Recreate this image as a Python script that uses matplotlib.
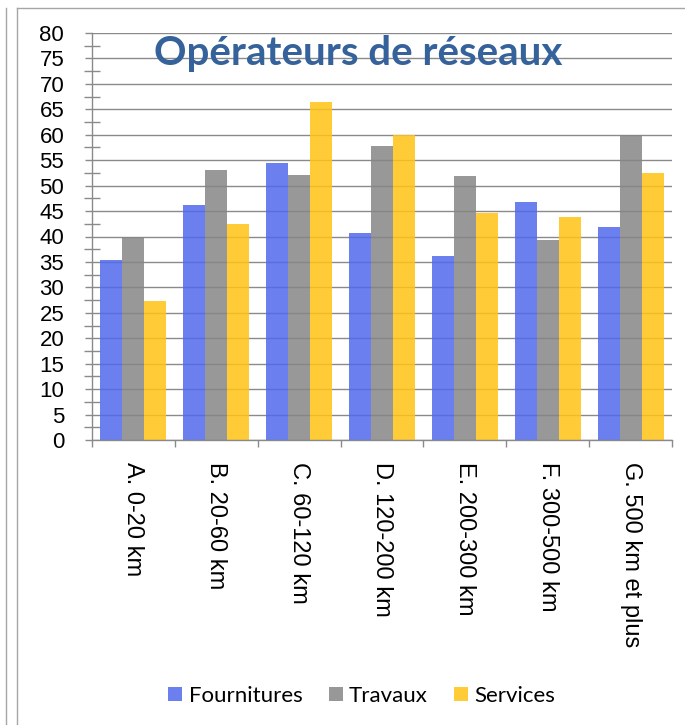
import matplotlib
matplotlib.use("Agg")
import matplotlib.pyplot as plt
from matplotlib.lines import Line2D
import numpy as np

CATEGORIES = ["A. 0-20 km", "B. 20-60 km", "C. 60-120 km", "D. 120-200 km",
              "E. 200-300 km", "F. 300-500 km", "G. 500 km et plus"]
FOURNITURES = [35.4, 46.2, 54.4, 40.7, 36.1, 46.8, 41.8]
TRAVAUX = [40.0, 53.0, 52.1, 57.8, 51.9, 39.3, 59.9]
SERVICES = [27.4, 42.4, 66.4, 59.9, 44.6, 43.8, 52.5]
SERIES = ["Fournitures", "Travaux", "Services"]
COLORS = ["#5169ec", "#868686", "#ffc415"]
TITLE = "Opérateurs de réseaux"

W, H = 685, 725
fig = plt.figure(figsize=(W / 100, H / 100), dpi=100)
ax = fig.add_axes([92 / W, 1 - 440 / H, 580 / W, 407 / H])

x = np.arange(len(CATEGORIES))
bw = 0.265
for j, (vals, col) in enumerate(zip([FOURNITURES, TRAVAUX, SERVICES], COLORS)):
    ax.bar(x + (j - 1) * bw, vals, bw, color=col, alpha=0.85, zorder=2, linewidth=0)

ax.set_xlim(-0.5, len(CATEGORIES) - 0.5)
ax.set_ylim(0, 80)
ax.set_yticks(np.arange(0, 81, 5))
ax.set_yticks(np.arange(2.5, 80, 5), minor=True)
ax.yaxis.grid(True, color="#8a8a8a", linewidth=1.0, zorder=0)
ax.set_axisbelow(True)

ax.set_xticks(np.arange(-0.5, len(CATEGORIES), 1))
ax.set_xticklabels([])
ax.set_xticks(x, minor=True)
ax.set_xticklabels(CATEGORIES, minor=True, rotation=270, va="top", ha="center",
                   fontsize=17, family="Liberation Sans")
ax.tick_params(axis="x", which="major", direction="out", length=5, width=1, color="#8a8a8a")
ax.tick_params(axis="x", which="minor", length=0, pad=16)
ax.tick_params(axis="y", which="major", direction="out", length=5, width=1,
               color="#8a8a8a", pad=15, labelsize=16)
ax.tick_params(axis="y", which="minor", direction="inout", length=11, width=1, color="#8a8a8a")
for lbl in ax.get_yticklabels():
    lbl.set_family("Liberation Sans")

for s in ["top", "right"]:
    ax.spines[s].set_visible(False)
for s in ["left", "bottom"]:
    ax.spines[s].set_color("#8a8a8a")
    ax.spines[s].set_linewidth(1.0)

fig.text(358 / W, 1 - 54 / H, TITLE, ha="center", va="center", fontsize=29,
         fontweight="bold", color="#35629a", family="Lato")

handles = [Line2D([], [], marker="s", linestyle="none", markersize=10,
                  markerfacecolor=c, markeredgewidth=0, alpha=0.85) for c in COLORS]
fig.legend(handles, SERIES, loc="center", bbox_to_anchor=(361 / W, 1 - 696 / H),
           ncol=3, frameon=False, handletextpad=0.2, columnspacing=1.1,
           handlelength=0.8, prop={"family": "Lato", "size": 16})

frame = "#a6a6a6"
fig.add_artist(Line2D([5.5 / W, 5.5 / W], [0, 1 - 8 / H], color=frame, lw=1))
fig.add_artist(Line2D([17 / W, 17 / W], [0, 1 - 8 / H], color=frame, lw=1))
fig.add_artist(Line2D([17 / W, 1], [1 - 8 / H, 1 - 8 / H], color=frame, lw=1))

fig.savefig("out.png", dpi=100)
